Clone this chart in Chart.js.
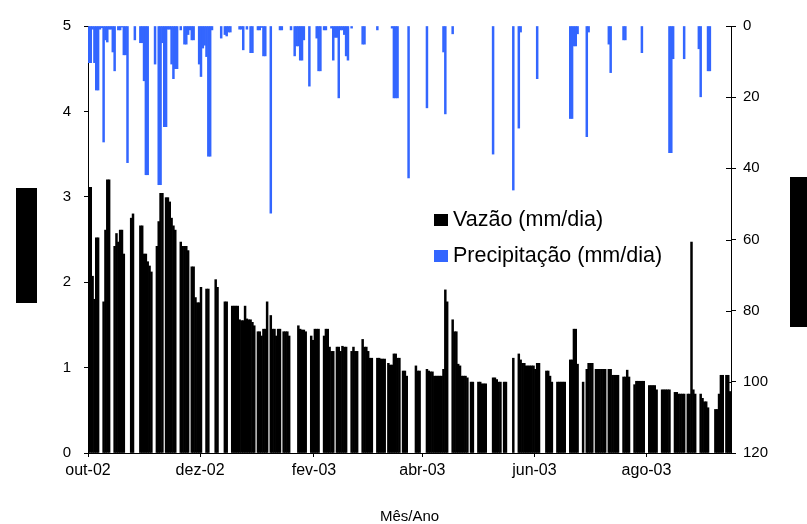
<!DOCTYPE html>
<html>
<head>
<meta charset="utf-8">
<script src="https://cdn.jsdelivr.net/npm/chart.js@4/dist/chart.umd.min.js"></script>
<style>
  html, body { margin: 0; padding: 0; background: #fff; }
  canvas { display: block; }
</style>
</head>
<body>
<canvas id="c" width="807" height="524"></canvas>
<script>
// Daily series, day 0 = 1 Oct 2002 (null = no flow record that day)
const vazao = [
 3.11,3.11,2.07,1.80,2.52,2.52,null,null,1.77,2.61, 3.20,3.20,null,null,2.42,2.57,2.47,2.61,2.61,2.33,
 null,null,null,2.75,2.80,null,null,null,2.66,2.66, 2.33,2.33,2.24,2.19,2.12,null,null,2.42,2.71,3.04,
 3.04,null,2.99,2.99,2.94,2.75,2.66,2.61,null,null, 2.47,2.42,2.42,2.42,2.37,null,2.18,2.18,1.82,1.76,
 1.76,1.94,null,null,1.92,1.92,null,null,null,2.03, 1.94,null,null,null,1.77,1.77,null,null,1.72,1.72,
 1.72,1.72,1.56,1.55,1.55,1.72,1.57,1.56,1.56,1.53, 1.49,null,1.42,1.42,1.37,1.45,1.45,1.77,null,1.61,
 1.45,1.45,1.37,1.45,1.45,null,1.42,1.42,1.42,1.37, null,null,null,null,1.49,1.45,1.44,1.44,1.42,null,
 null,1.37,1.32,1.45,1.45,1.45,null,null,1.37,1.45, 1.45,1.24,1.19,1.19,null,1.24,1.24,1.19,1.25,1.24,
 1.24,null,null,1.19,1.24,1.19,1.19,null,null,1.33, 1.24,1.24,1.19,1.11,1.11,null,null,1.11,1.11,1.10,
 1.10,1.10,null,1.05,1.03,1.03,1.16,1.16,1.11,1.11, null,0.96,0.96,0.90,null,null,null,null,1.02,0.96,
 0.96,null,null,null,0.98,0.96,0.95,0.95,0.90,0.90, 0.90,0.90,0.90,0.98,1.91,1.77,null,null,1.56,1.42,
 1.42,1.04,1.02,0.90,0.90,0.90,0.88,null,0.83,0.83, null,null,0.83,0.83,0.81,0.81,0.81,null,null,null,
 0.88,0.88,0.86,0.83,0.83,null,0.83,0.83,null,null, null,1.11,null,null,1.16,1.09,1.05,1.05,1.02,1.02,
 1.02,1.02,1.02,0.98,1.05,1.05,null,null,null,0.96, 0.96,0.90,0.83,null,null,0.83,0.83,0.83,0.83,0.83,
 null,null,1.09,1.09,1.45,1.45,1.04,null,null,0.83, null,0.98,1.05,1.05,1.05,null,0.98,0.98,0.98,0.98,
 0.98,0.98,null,0.98,0.98,0.91,0.91,0.91,0.91,null, null,0.89,0.89,0.97,0.89,null,null,0.80,0.84,0.84,
 0.84,0.84,0.84,null,null,0.79,0.79,0.79,0.79,0.74, null,null,0.74,0.74,0.74,0.74,0.74,null,null,0.71,
 0.71,0.69,0.69,0.69,0.69,null,0.69,0.69,2.47,0.74, 0.69,null,null,0.69,0.64,0.60,0.60,0.53,null,null,
 null,0.51,0.51,0.69,0.91,0.91,null,0.91,0.91,0.72
];
const precipitacao = [
 10.3,10.3,0.9,10.3,18.0,18.0,0.9,0.5,32.6,3.9, 4.5,0.9,0.9,7.3,12.6,0,1.1,1.1,0.3,8.1,
 8.1,38.4,0,0,0,3.9,0,0,4.7,4.7, 15.4,41.8,41.8,0,0,0,10.7,0,44.6,44.6,
 4.7,28.3,28.3,0.9,0.9,10.7,14.8,12.0,12.0,0, 1.1,0,5.1,5.1,2.4,1.1,3.9,3.9,0,0,
 10.7,14.2,6.2,5.4,8.6,36.6,36.6,1.1,0,0, 0,0,3.4,0,2.4,2.8,1.7,1.7,0,0,
 0,0,0.9,0.9,6.7,0,0.9,0,7.5,7.5, 0,0,1.1,1.1,0.4,8.4,8.4,0,0,52.6,
 0,0,0,0,1.1,1.1,0,0,0,0, 1.1,0,8.4,5.6,5.6,9.6,9.6,3.9,0,0,
 16.9,0,0,0,3.4,12.6,12.6,0,1.1,1.1, 0,0,0.6,9.6,3.2,3.2,20.2,1.1,1.1,2.4,
 8.4,9.6,0,0.6,0,0,0,0,0,5.1, 5.1,0,0,0,0,0,0,1.1,0,0,
 0,0,0,0,0,0.6,20.2,20.2,20.2,0, 0,0,0,0,42.7,0,0,0,0,0,
 0,0,0,0,23.0,0,0,0,0,0, 0,0,0,7.3,24.7,0,0,0,2.2,0,
 0,0,0,0,0,0,0,0,0,0, 0,0,0,0,0,0,0,0,0,0,
 36.0,0,0,0,0,0,0,0,0,0, 0,46.1,0,0,28.7,1.7,0,0,0,0,
 0,0,0,0,14.8,0,0,0,0,0, 0,0,0,0,0,0,0,0,0,0,
 0,0,26.0,26.0,5.6,5.6,2.2,0,0,0, 0,31.1,1.7,0,0,0,0,0,0,0,
 0,0,0,5.1,13.1,0,0,0,0,0, 0,3.9,3.9,0,0,0,0,0,0,0,
 0,7.5,0,0,0,0,0,0,0,0, 0,0,0,0,0,0,35.6,35.6,9.2,0,
 0,0,0,0,9.2,0,0,0,0,0, 0,0,6.4,19.9,0,0,0,12.6,12.6,0
];
const tickDays   = [0, 61, 123, 182, 243, 304];
const tickLabels = ['out-02', 'dez-02', 'fev-03', 'abr-03', 'jun-03', 'ago-03'];
const leftTicks  = [0, 1, 2, 3, 4, 5];
const rightTicks = [0, 20, 40, 60, 80, 100, 120];
const legendLabels = ['Vazão (mm/dia)', 'Precipitação (mm/dia)'];
const xTitle = 'Mês/Ano';

const FAMILY = "'Liberation Sans', Arial, sans-serif";
const BLUE = '#3366ff';

const flowPts = vazao.map((v, i) => ({ x: i + 0.5, y: v }));
const rainPts = precipitacao.map((v, i) => ({ x: i + 0.5, y: v > 0 ? v : null }));

const extras = {
  id: 'extras',
  afterDraw(chart) {
    const ctx = chart.ctx;
    const ca = chart.chartArea;
    ctx.save();
    // blacked-out axis titles
    ctx.fillStyle = '#000';
    ctx.fillRect(16, 188, 21, 115);
    ctx.fillRect(790, 177, 17, 150);
    // inner half of right-axis tick marks
    const y2 = chart.scales.y2;
    ctx.strokeStyle = '#000';
    ctx.lineWidth = 1;
    y2.ticks.forEach(t => {
      const py = Math.round(y2.getPixelForValue(t.value)) + 0.5;
      ctx.beginPath();
      ctx.moveTo(ca.right - 5, py);
      ctx.lineTo(ca.right, py);
      ctx.stroke();
    });
    // legend
    ctx.font = '21.5px ' + FAMILY;
    ctx.textBaseline = 'alphabetic';
    ctx.textAlign = 'left';
    ctx.fillStyle = '#000';
    ctx.fillRect(434, 214, 14, 12);
    ctx.fillText(legendLabels[0], 453, 226);
    ctx.fillStyle = BLUE;
    ctx.fillRect(434, 250, 14, 12);
    ctx.fillStyle = '#000';
    ctx.fillText(legendLabels[1], 453, 262);
    // x axis title
    ctx.font = '15px ' + FAMILY;
    ctx.textAlign = 'center';
    ctx.textBaseline = 'middle';
    ctx.fillText(xTitle, (ca.left + ca.right) / 2, 517);
    ctx.restore();
  }
};

const axisGrid = { display: true, drawOnChartArea: false, drawTicks: true, tickLength: 4, color: '#000', lineWidth: 1, offset: false };
const axisBorder = { display: true, color: '#000', width: 1 };

new Chart(document.getElementById('c'), {
  type: 'bar',
  data: {
    datasets: [
      { label: legendLabels[0], data: flowPts, yAxisID: 'y', backgroundColor: '#000',
        barPercentage: 1, categoryPercentage: 1, grouped: false, borderWidth: 0, order: 2 },
      { label: legendLabels[1], data: rainPts, yAxisID: 'y2', backgroundColor: BLUE,
        barPercentage: 1, categoryPercentage: 1, grouped: false, borderWidth: 0, order: 1 }
    ]
  },
  options: {
    responsive: false,
    devicePixelRatio: 1,
    animation: false,
    layout: { padding: { top: 26, left: 0, right: 0, bottom: 0 } },
    plugins: { legend: { display: false }, tooltip: { enabled: false } },
    scales: {
      x: {
        type: 'linear', min: 0, max: 350, offset: false,
        afterBuildTicks: s => { s.ticks = tickDays.map(v => ({ value: v })); },
        afterFit: s => { s.height = 71; },
        ticks: { callback: (v, i) => tickLabels[i], autoSkip: false, maxRotation: 0, minRotation: 0,
                 padding: 4, color: '#000', font: { family: FAMILY, size: 16 } },
        grid: axisGrid, border: axisBorder
      },
      y: {
        position: 'left', min: 0, max: 5,
        afterBuildTicks: s => { s.ticks = leftTicks.map(v => ({ value: v })); },
        afterFit: s => { s.width = 88; },
        ticks: { padding: 13, color: '#000', font: { family: FAMILY, size: 15 } },
        grid: axisGrid, border: axisBorder
      },
      y2: {
        position: 'right', min: 0, max: 120, reverse: true,
        afterBuildTicks: s => { s.ticks = rightTicks.map(v => ({ value: v })); },
        afterFit: s => { s.width = 76; },
        ticks: { padding: 7, color: '#000', font: { family: FAMILY, size: 15 } },
        grid: { ...axisGrid, tickLength: 5 }, border: axisBorder
      }
    }
  },
  plugins: [extras]
});
</script>
</body>
</html>
